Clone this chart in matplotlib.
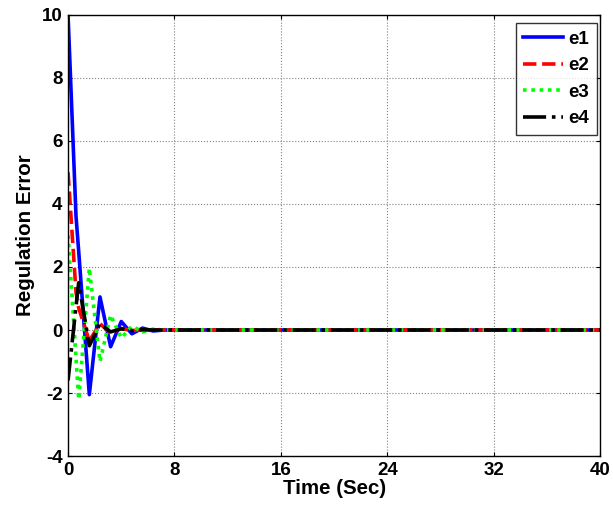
import matplotlib
matplotlib.use("Agg")
import matplotlib.pyplot as plt

# ---------------- data ----------------
time_sec = [0, 0.6, 0.8, 1.6, 2.4, 3.2, 4.0, 4.8, 5.6, 6.4, 7.2, 40]
e1 = [10, 3.6, 2.5, -2.05, 1.05, -0.53, 0.27, -0.12, 0.06, -0.03, 0, 0]
e2 = [5, 1.2, 0.7, -0.35, 0.2, -0.1, 0.05, -0.02, 0.01, 0, 0, 0]
e3 = [3.0, -0.9, -2.2, 1.96, -1.0, 0.47, -0.25, 0.12, -0.06, 0.03, 0, 0]
e4 = [-1.6, 0.75, 1.5, -0.5, 0.2, -0.06, 0.04, -0.02, 0.01, 0, 0, 0]

x_ticks = [0, 8, 16, 24, 32, 40]
y_ticks = [-4, -2, 0, 2, 4, 6, 8, 10]

plt.rcParams['font.family'] = ['Liberation Sans', 'DejaVu Sans']
plt.rcParams['font.weight'] = 'bold'
plt.rcParams['axes.unicode_minus'] = False

fig = plt.figure(figsize=(6.13, 5.13), dpi=100)
ax = fig.add_axes([0.111, 0.111, 0.868, 0.860])

ax.plot(time_sec, e1, '-', color='blue', lw=2.6, label='e1')
ax.plot(time_sec, e2, '--', color='red', lw=2.6, label='e2')
ax.plot(time_sec, e3, ':', color=(0, 1, 0), lw=2.6, dashes=(1, 1.3), label='e3')
ax.plot(time_sec, e4, '-.', color='black', lw=2.6, label='e4')

ax.set_xlim(0, 40)
ax.set_ylim(-4, 10)
ax.set_xticks(x_ticks)
ax.set_yticks(y_ticks)
ax.grid(True, linestyle=':', color='#808080', lw=0.8)
ax.tick_params(direction='in', length=3, width=0.8, top=True, right=True,
               labelsize=13.5, pad=4)
for lab in ax.get_xticklabels() + ax.get_yticklabels():
    lab.set_fontweight('bold')
for sp in ax.spines.values():
    sp.set_linewidth(1.0)
    sp.set_color('black')

ax.set_xlabel("Time (Sec)", fontsize=14.8, fontweight='bold', labelpad=0)
ax.set_ylabel("Regulation Error", fontsize=14.8, fontweight='bold', labelpad=5)

# legend box: right edge ~597px, top ~23px
leg = ax.legend(loc='upper right', bbox_to_anchor=(597 / 613, 1 - 23 / 513),
                bbox_transform=fig.transFigure, borderaxespad=0,
                fontsize=13.5, frameon=True, fancybox=False, edgecolor='black',
                handlelength=2.1, labelspacing=0.5, handletextpad=0.3,
                borderpad=0.42)
leg.get_frame().set_linewidth(1.0)
for t in leg.get_texts():
    t.set_fontweight('bold')

fig.savefig("out.png", dpi=100)
